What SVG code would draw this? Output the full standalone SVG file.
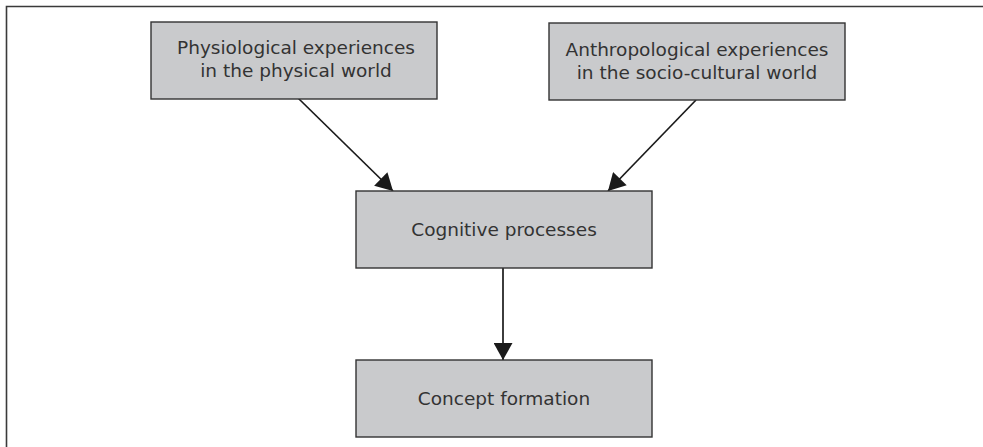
<svg xmlns="http://www.w3.org/2000/svg" width="983" height="447" viewBox="0 0 983 447">
<defs>
<style>
.box{fill:#c9cacc;stroke:#333;stroke-width:1.4}
.lbl{font-family:"DejaVu Sans","Noto Sans",sans-serif;font-size:18.5px;fill:#333;text-anchor:middle}
.edge{stroke:#1a1a1a;stroke-width:1.7;fill:none}
.frame{stroke:#3a3a3a;stroke-width:1.6;fill:none}
</style>
<marker id="arr" markerWidth="19" markerHeight="19" viewBox="0 0 18 20" refX="18" refY="10" orient="auto" markerUnits="userSpaceOnUse">
<path d="M0,0 L18,10 L0,20 Z" fill="#1a1a1a"/>
</marker>
</defs>
<rect width="983" height="447" fill="#fff"/>
<path class="frame" d="M6.5,447 L6.5,6.5 L983,6.5"/>
<g id="connectors">
<line class="edge" x1="298" y1="98" x2="393" y2="191" marker-end="url(#arr)"/>
<line class="edge" x1="696" y1="100" x2="608" y2="191" marker-end="url(#arr)"/>
<line class="edge" x1="503" y1="268" x2="503" y2="360" marker-end="url(#arr)"/>
</g>
<g id="physiological">
<rect class="box" x="151" y="22" width="286" height="77"/>
<text class="lbl" x="296" y="54">Physiological experiences</text>
<text class="lbl" x="296" y="77">in the physical world</text>
</g>
<g id="anthropological">
<rect class="box" x="549" y="23" width="296" height="77"/>
<text class="lbl" x="697" y="56">Anthropological experiences</text>
<text class="lbl" x="697" y="79">in the socio-cultural world</text>
</g>
<g id="cognitive">
<rect class="box" x="356" y="191" width="296" height="77"/>
<text class="lbl" x="504" y="236">Cognitive processes</text>
</g>
<g id="concept">
<rect class="box" x="356" y="360" width="296" height="77"/>
<text class="lbl" x="504" y="405">Concept formation</text>
</g>
</svg>
